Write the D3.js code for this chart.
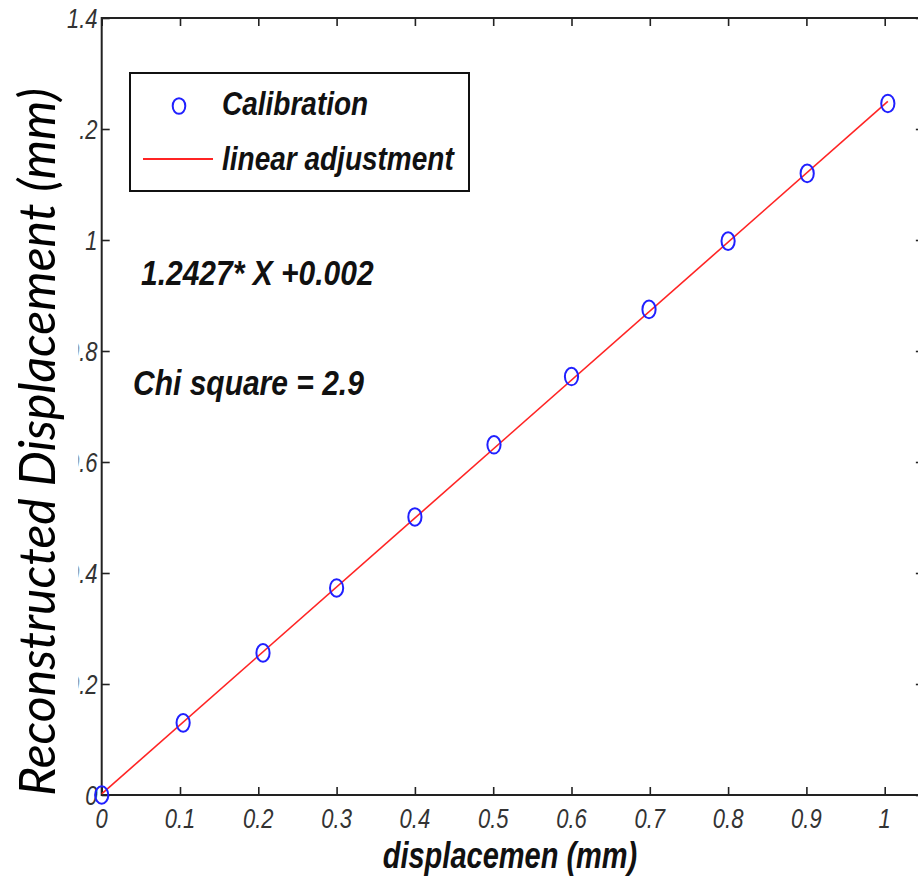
<!DOCTYPE html>
<html>
<head>
<meta charset="utf-8">
<script src="https://cdn.jsdelivr.net/npm/d3@7"></script>
<style>
  html, body { margin: 0; padding: 0; background: #fff; }
  svg { display: block; }
</style>
</head>
<body>
<svg id="chart" width="918" height="880"></svg>
<script>
// Calibration measurements (mm)
const calibX = [0, 0.104, 0.206, 0.300, 0.400, 0.501, 0.600, 0.699, 0.800, 0.901, 1.004];
const calibY = [0, 0.130, 0.256, 0.373, 0.501, 0.631, 0.754, 0.875, 0.998, 1.120, 1.246];

// Linear fit parameters
const fitSlope = 1.2427;
const fitIntercept = 0.002;
const chiSquare = 2.9;

// Axis ticks and labels
const xTicks = [0, 0.1, 0.2, 0.3, 0.4, 0.5, 0.6, 0.7, 0.8, 0.9, 1];
const xTickLabels = ["0", "0.1", "0.2", "0.3", "0.4", "0.5", "0.6", "0.7", "0.8", "0.9", "1"];
const yTicks = [0, 0.2, 0.4, 0.6, 0.8, 1, 1.2, 1.4];
const yTickLabels = ["0", "0.2", "0.4", "0.6", "0.8", "1", "1.2", "1.4"];

const legendLabels = ["Calibration", "linear adjustment"];
const xTitle = "displacemen (mm)";
const yTitle = "Reconstructed Displacement (mm)";

const svg = d3.select("#chart");

const x = d3.scaleLinear().domain([0, 1.05]).range([101.7, 101.7 + 783 * 1.05]);
const y = d3.scaleLinear().domain([0, 1.4]).range([795, 18]);

const axisColor = "#222";
const tickLen = 8;
const plotFont = "'Liberation Sans', Arial, sans-serif";

// Frame and inward ticks on all four sides
const gAxes = svg.append("g");
const styleAxis = g => {
  g.select(".domain").remove();
  g.selectAll(".tick line").attr("stroke", axisColor).attr("stroke-width", 1.6);
  g.selectAll(".tick text").remove();
};
gAxes.append("g").attr("transform", `translate(0,${y(0)})`)
  .call(d3.axisBottom(x).tickValues(xTicks).tickSizeInner(-tickLen).tickSizeOuter(0)).call(styleAxis);
gAxes.append("g").attr("transform", `translate(0,${y(1.4)})`)
  .call(d3.axisTop(x).tickValues(xTicks).tickSizeInner(-tickLen).tickSizeOuter(0)).call(styleAxis);
gAxes.append("g").attr("transform", `translate(${x(0)},0)`)
  .call(d3.axisLeft(y).tickValues(yTicks).tickSizeInner(-tickLen).tickSizeOuter(0)).call(styleAxis);
gAxes.append("g").attr("transform", `translate(${x(1.05)},0)`)
  .call(d3.axisRight(y).tickValues(yTicks).tickSizeInner(-tickLen).tickSizeOuter(0)).call(styleAxis);

gAxes.append("rect")
  .attr("x", x(0)).attr("y", y(1.4))
  .attr("width", x(1.05) - x(0)).attr("height", y(0) - y(1.4))
  .attr("fill", "none").attr("stroke", axisColor).attr("stroke-width", 2);

// Tick labels (thin italic, slightly tall)
const tickStretch = 1.25;
svg.append("g").selectAll("text").data(xTicks).join("text")
  .attr("transform", d => `translate(${x(d)},828) scale(1,${tickStretch})`)
  .attr("text-anchor", "middle")
  .attr("font-family", plotFont).attr("font-style", "italic")
  .attr("font-size", 22).attr("fill", "#333")
  .text((d, i) => xTickLabels[i]);

svg.append("g").selectAll("text").data(yTicks).join("text")
  .attr("transform", d => `translate(97.5,${y(d) + 10}) scale(1,${tickStretch})`)
  .attr("text-anchor", "end")
  .attr("font-family", plotFont).attr("font-style", "italic")
  .attr("font-size", 22).attr("fill", "#333")
  .text((d, i) => yTickLabels[i]);

// Fitted line
const fitLine = d3.line().x(d => x(d)).y(d => y(fitSlope * d + fitIntercept));
svg.append("path")
  .datum([0, calibX[calibX.length - 1]])
  .attr("d", fitLine)
  .attr("fill", "none").attr("stroke", "#ff2424").attr("stroke-width", 1.6);

// Calibration markers
const markerColor = "#2020ff";
svg.append("g").selectAll("ellipse").data(calibX).join("ellipse")
  .attr("cx", d => x(d))
  .attr("cy", (d, i) => y(calibY[i]))
  .attr("rx", 6.6).attr("ry", 8.8)
  .attr("fill", "none").attr("stroke", markerColor).attr("stroke-width", 2);

// Legend
const lg = svg.append("g");
lg.append("rect").attr("x", 130).attr("y", 73).attr("width", 339).attr("height", 118)
  .attr("fill", "#fff").attr("stroke", "#111").attr("stroke-width", 2);
lg.append("ellipse").attr("cx", 179).attr("cy", 106).attr("rx", 6.3).attr("ry", 7.8)
  .attr("fill", "none").attr("stroke", markerColor).attr("stroke-width", 2);
lg.append("line").attr("x1", 143).attr("x2", 213).attr("y1", 159).attr("y2", 159)
  .attr("stroke", "#ff2424").attr("stroke-width", 2);
lg.selectAll("text").data(legendLabels).join("text")
  .attr("transform", (d, i) => `translate(222,${i === 0 ? 115 : 170}) scale(1,1.18)`)
  .attr("font-family", plotFont).attr("font-style", "italic").attr("font-weight", "bold")
  .attr("font-size", 28).attr("fill", "#111")
  .text(d => d);

// Fit annotations
const notes = [
  { text: `${fitSlope}* X +${fitIntercept}`, px: 141, py: 285 },
  { text: `Chi square = ${chiSquare}`, px: 133, py: 395 }
];
svg.append("g").selectAll("text").data(notes).join("text")
  .attr("transform", d => `translate(${d.px},${d.py}) scale(1,1.18)`)
  .attr("font-family", plotFont).attr("font-style", "italic").attr("font-weight", "bold")
  .attr("font-size", 30).attr("fill", "#111")
  .text(d => d.text);

// X axis title
svg.append("text")
  .attr("transform", `translate(510,868) scale(1,1.25)`)
  .attr("text-anchor", "middle")
  .attr("font-family", plotFont).attr("font-style", "italic").attr("font-weight", "bold")
  .attr("font-size", 29).attr("fill", "#111")
  .text(xTitle);

// Y axis title on a white panel
svg.append("rect").attr("x", 0).attr("y", 78).attr("width", 78.5).attr("height", 730).attr("fill", "#fff");
svg.append("text")
  .attr("transform", `translate(55,442) rotate(-90)`)
  .attr("text-anchor", "middle")
  .attr("font-family", "Lato, 'Open Sans', sans-serif").attr("font-style", "italic")
  .attr("font-size", 50).attr("fill", "#000")
  .text(yTitle);
</script>
</body>
</html>
